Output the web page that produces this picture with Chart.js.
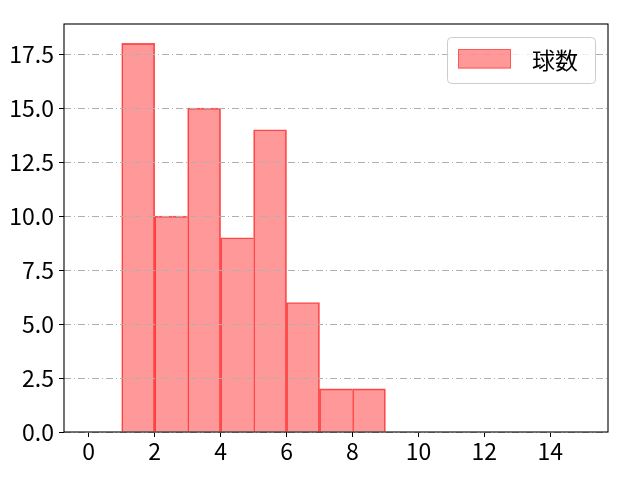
<!DOCTYPE html>
<html>
<head>
<meta charset="utf-8">
<script src="https://cdn.jsdelivr.net/npm/chart.js@4.4.0/dist/chart.umd.min.js"></script>
<style>
html,body{margin:0;padding:0;background:#fff;}
#c{display:block;}
</style>
</head>
<body>
<canvas id="c" width="640" height="480"></canvas>
<script>
const binLeft = [1, 2, 3, 4, 5, 6, 7, 8];
const counts = [18, 10, 15, 9, 14, 6, 2, 2];
const seriesLabel = '球数';
const xTicks = [0, 2, 4, 6, 8, 10, 12, 14];
const yTicks = [0, 2.5, 5, 7.5, 10, 12.5, 15, 17.5];

const FONT = '"Noto Sans CJK JP", "Noto Sans", sans-serif';
const FS = 23;

const frame = {
  id: 'frame',
  afterDraw(chart) {
    const {ctx, chartArea: a} = chart;
    ctx.save();
    ctx.strokeStyle = '#000';
    ctx.lineWidth = 1.1;
    ctx.strokeRect(a.left, a.top, a.right - a.left, a.bottom - a.top);
    // legend
    const ds = chart.data.datasets[0];
    const lx = 447.5, ly = 37.5, lw = 148, lh = 46, r = 4;
    ctx.beginPath();
    ctx.moveTo(lx + r, ly);
    ctx.lineTo(lx + lw - r, ly);
    ctx.quadraticCurveTo(lx + lw, ly, lx + lw, ly + r);
    ctx.lineTo(lx + lw, ly + lh - r);
    ctx.quadraticCurveTo(lx + lw, ly + lh, lx + lw - r, ly + lh);
    ctx.lineTo(lx + r, ly + lh);
    ctx.quadraticCurveTo(lx, ly + lh, lx, ly + lh - r);
    ctx.lineTo(lx, ly + r);
    ctx.quadraticCurveTo(lx, ly, lx + r, ly);
    ctx.closePath();
    ctx.fillStyle = 'rgba(255,255,255,0.8)';
    ctx.fill();
    ctx.strokeStyle = '#cccccc';
    ctx.lineWidth = 1;
    ctx.stroke();
    ctx.fillStyle = ds.backgroundColor;
    ctx.fillRect(458, 49, 53, 19.5);
    ctx.strokeStyle = 'rgba(255,60,60,0.7)';
    ctx.strokeRect(458.5, 49.5, 52, 18.5);
    ctx.fillStyle = '#000';
    ctx.font = FS + 'px ' + FONT;
    ctx.textBaseline = 'middle';
    ctx.textAlign = 'left';
    ctx.fillText(ds.label, 532, 60);
    ctx.restore();
  }
};

new Chart(document.getElementById('c'), {
  type: 'bar',
  data: {
    datasets: [{
      label: seriesLabel,
      data: binLeft.map((x, i) => ({x: x + 0.5, y: counts[i]})),
      backgroundColor: 'rgba(255,0,0,0.4)',
      borderColor: 'rgba(255,30,30,0.75)',
      borderWidth: c => {
        const i = c.dataIndex;
        const last = i === counts.length - 1;
        return {top: 1, left: 1, bottom: 0, right: (last || counts[i + 1] < counts[i]) ? 1 : 0};
      },
      barPercentage: 1,
      categoryPercentage: 1,
      borderSkipped: false
    }]
  },
  options: {
    responsive: false,
    animation: false,
    devicePixelRatio: 1,
    layout: {padding: {left: 0, right: 32, top: 24, bottom: 0}},
    plugins: {legend: {display: false}, tooltip: {enabled: false}},
    scales: {
      x: {
        type: 'linear',
        offset: false,
        min: -0.75,
        max: 15.75,
        afterBuildTicks(s) { s.ticks = xTicks.map(v => ({value: v})); },
        afterFit(s) { s.height = 48; },
        grid: {offset: false, drawOnChartArea: false, drawTicks: true, tickLength: 5, tickColor: '#000', tickWidth: 1},
        border: {display: false},
        ticks: {color: '#000', font: {family: FONT, size: FS}, padding: 0, maxRotation: 0, autoSkip: false,
                callback: v => String(v)}
      },
      y: {
        min: 0,
        max: 18.9,
        afterBuildTicks(s) { s.ticks = yTicks.map(v => ({value: v})); },
        afterFit(s) { s.width = 64; },
        grid: {z: 1, color: '#b0b0b0', lineWidth: 1, drawTicks: true, tickLength: 5,
               tickColor: '#000', tickWidth: 1, tickBorderDash: []},
        border: {display: false, dash: [7, 3, 1, 3]},
        ticks: {color: '#000', font: {family: FONT, size: FS}, padding: 5, autoSkip: false,
                callback: v => Number(v).toFixed(1)}
      }
    }
  },
  plugins: [frame]
});
</script>
</body>
</html>
